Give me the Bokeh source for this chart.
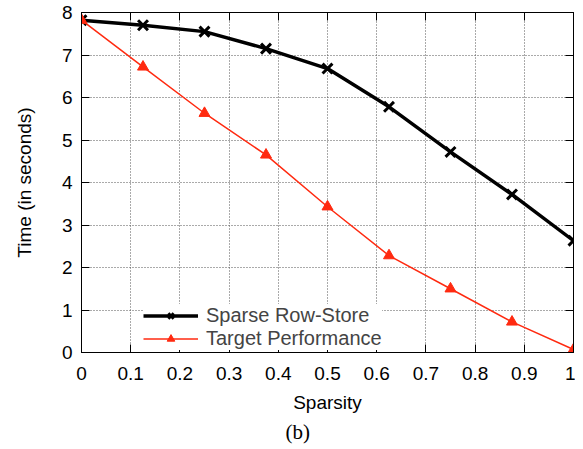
from bokeh.plotting import figure
from bokeh.models import (Legend, LegendItem, LinearAxis, FixedTicker, Title,
                          Range1d, ColumnDataSource, CustomJSTickFormatter)
from bokeh.embed import file_html
from bokeh.resources import INLINE

# ---- data ----
sparsity = [0.0, 0.125, 0.25, 0.375, 0.5, 0.625, 0.75, 0.875, 1.0]
row_store = [7.82, 7.70, 7.55, 7.15, 6.68, 5.78, 4.72, 3.72, 2.63]
target = [7.82, 6.72, 5.63, 4.65, 3.43, 2.28, 1.50, 0.72, 0.07]
x_ticks = [0, 0.1, 0.2, 0.3, 0.4, 0.5, 0.6, 0.7, 0.8, 0.9, 1]
x_tick_labels = ["0", "0.1", "0.2", "0.3", "0.4", "0.5", "0.6", "0.7", "0.8", "0.9", "1"]
y_ticks = [0, 1, 2, 3, 4, 5, 6, 7, 8]
series_names = ["Sparse Row-Store", "Target Performance"]

FONT = "Liberation Sans"
RED = "#ff2a10"

src = ColumnDataSource(dict(x=sparsity, a=row_store, b=target))

p = figure(width=575, height=446, output_backend="svg", toolbar_location=None,
           x_range=Range1d(0, 1), y_range=Range1d(0, 8),
           min_border_left=81, min_border_right=2, min_border_top=12,
           min_border_bottom=94, x_axis_label="Sparsity",
           y_axis_label="Time (in seconds)")
p.background_fill_color = "white"
p.border_fill_color = "white"
p.outline_line_color = "black"
p.outline_line_width = 1

# grid
for g in (p.xgrid, p.ygrid):
    g.grid_line_color = "#555555"
    g.grid_line_dash = "1 2"
    g.grid_line_width = 1
p.xgrid.ticker = FixedTicker(ticks=x_ticks)
p.ygrid.ticker = FixedTicker(ticks=y_ticks)

# main axes
xa = p.xaxis[0]
xa.ticker = FixedTicker(ticks=x_ticks)
xa.major_label_overrides = {t: l for t, l in zip(x_ticks, x_tick_labels)}
ya = p.yaxis[0]
ya.ticker = FixedTicker(ticks=y_ticks)
for ax in (xa, ya):
    ax.major_tick_in = 8
    ax.major_tick_out = 0
    ax.minor_tick_in = 0
    ax.minor_tick_out = 0
    ax.axis_line_color = "black"
    ax.major_tick_line_color = "black"
    ax.major_label_text_font = FONT
    ax.major_label_text_font_size = "19px"
    ax.major_label_text_color = "black"
    ax.axis_label_text_font = FONT
    ax.axis_label_text_font_size = "19px"
    ax.axis_label_text_font_style = "normal"
    ax.axis_label_text_color = "black"
xa.major_label_standoff = 14
xa.axis_label_standoff = 9
ya.major_label_standoff = 9
ya.axis_label_standoff = 24

# mirrored axes (ticks only)
top = LinearAxis(ticker=FixedTicker(ticks=x_ticks),
                 formatter=CustomJSTickFormatter(code="return ''"))
right = LinearAxis(ticker=FixedTicker(ticks=y_ticks),
                   formatter=CustomJSTickFormatter(code="return ''"))
for ax in (top, right):
    ax.major_tick_in = 8
    ax.major_tick_out = 0
    ax.minor_tick_in = 0
    ax.minor_tick_out = 0
    ax.major_label_standoff = 0
    ax.axis_line_color = "black"
p.add_layout(top, "above")
p.add_layout(right, "right")

# series
l1 = p.line("x", "a", source=src, line_color="black", line_width=3.5)
s1 = p.scatter("x", "a", source=src, marker="x", size=14, line_color="black",
               line_width=3)
l2 = p.line("x", "b", source=src, line_color=RED, line_width=1.5)
s2 = p.scatter("x", "b", source=src, marker="triangle", size=11,
               fill_color=RED, line_color=RED)

legend = Legend(items=[LegendItem(label=series_names[0], renderers=[l1, s1]),
                       LegendItem(label=series_names[1], renderers=[l2, s2])],
                location=(62, 2), glyph_width=55, glyph_height=19,
                label_text_font=FONT, label_text_font_size="20px",
                label_standoff=8, spacing=0, padding=4, margin=0,
                background_fill_color="white", background_fill_alpha=1.0,
                border_line_color=None, label_height=19)
p.add_layout(legend, "center")

cap = Title(text="(b)", align="left", offset=204, text_font="Liberation Serif",
            text_font_size="21px", text_font_style="normal", text_color="black",
            standoff=5)
p.add_layout(cap, "below")

open("out.html", "w").write(file_html(p, INLINE))
